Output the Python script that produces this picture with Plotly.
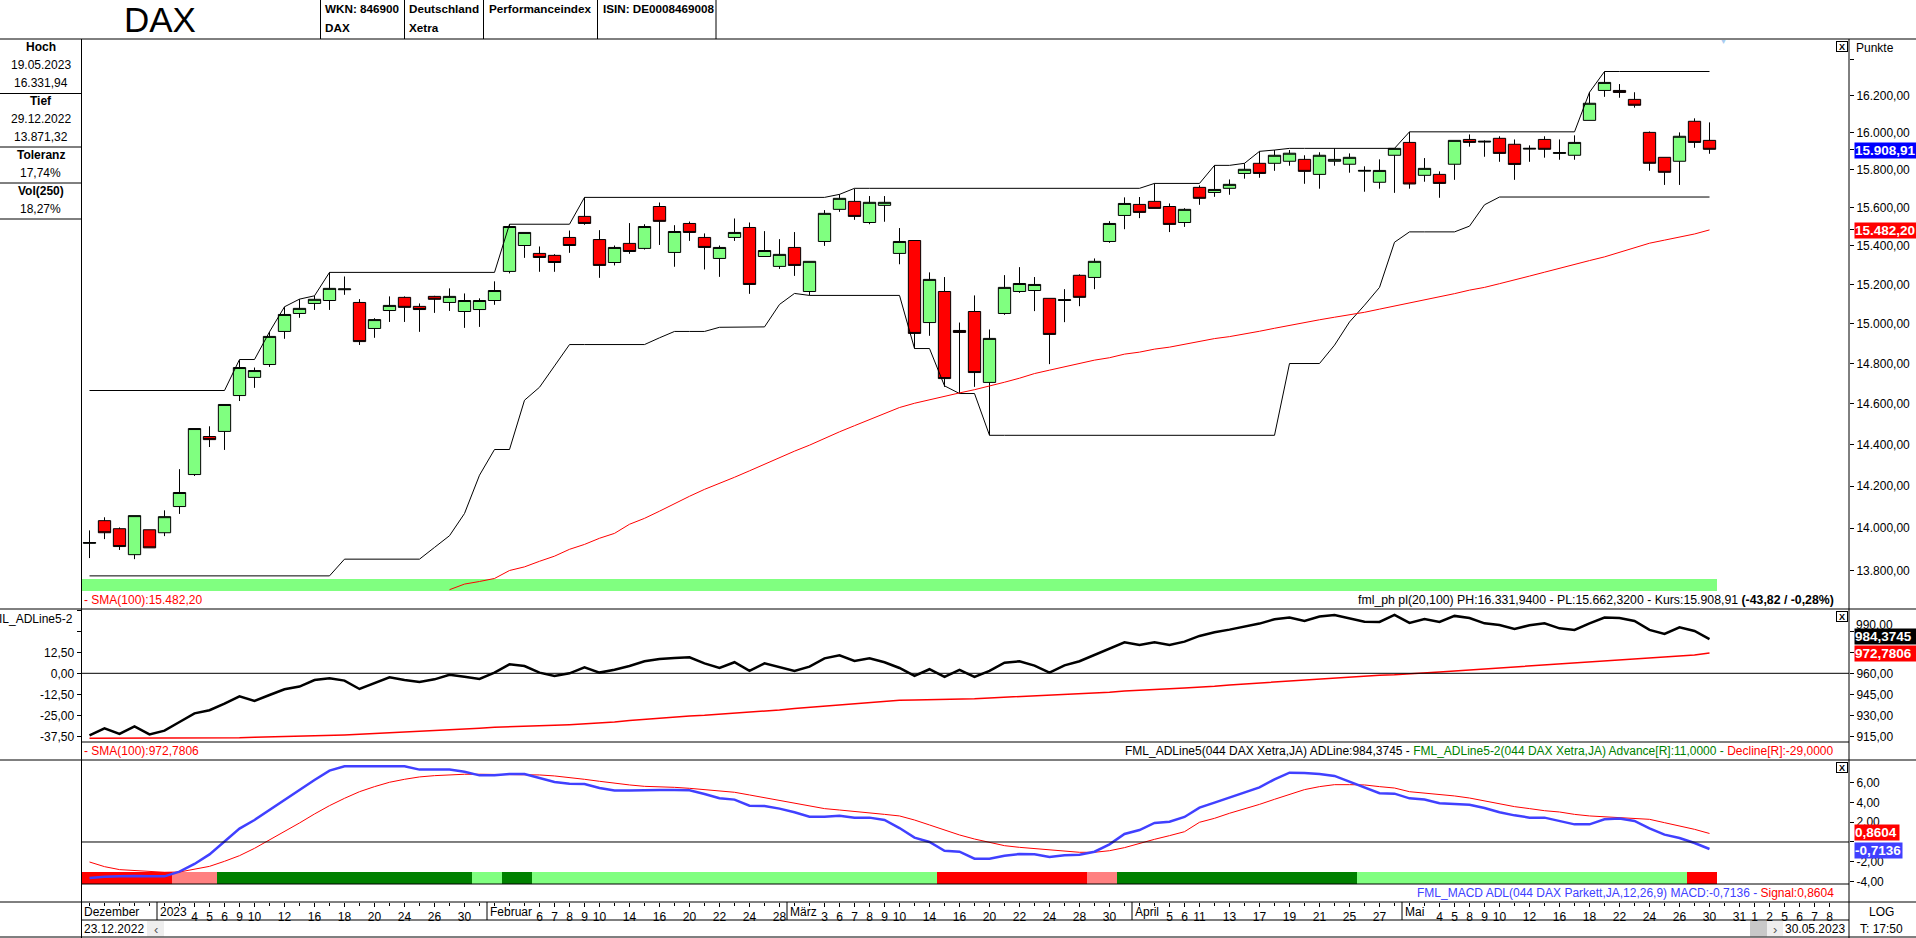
import math
import plotly.graph_objects as go

W, H = 1916, 938

# Tageskerzen DAX, 23.12.2022 - 30.05.2023
open_ = [13929, 14036, 13998, 13876, 13993, 13979, 14103, 14256, 14440, 14465, 14641, 14731, 14795, 14961, 15052, 15103, 15118, 15173, 15108, 14976, 15067, 15134, 15088, 15139, 15108, 15062, 15072, 15118, 15267, 15401, 15360, 15350, 15443, 15553, 15432, 15313, 15412, 15386, 15605, 15365, 15516, 15443, 15334, 15443, 15495, 15344, 15293, 15391, 15164, 15422, 15590, 15632, 15521, 15611, 15360, 15427, 15006, 15164, 14966, 15062, 14706, 15052, 15164, 15169, 15129, 15118, 15247, 15236, 15422, 15558, 15616, 15632, 15605, 15521, 15706, 15679, 15701, 15780, 15834, 15834, 15845, 15855, 15775, 15845, 15829, 15792, 15733, 15877, 15946, 15770, 15775, 15829, 15962, 15948, 15968, 15936, 15910, 15962, 15887, 15877, 16065, 16228, 16228, 16179, 16000, 15866, 15845, 16060, 15957]
high = [13990, 14052, 14004, 14060, 13993, 14085, 14282, 14479, 14490, 14597, 14817, 14780, 14959, 15086, 15125, 15142, 15262, 15241, 15125, 15028, 15139, 15139, 15103, 15142, 15180, 15154, 15129, 15216, 15512, 15469, 15396, 15356, 15479, 15653, 15481, 15401, 15518, 15512, 15626, 15507, 15526, 15464, 15401, 15542, 15521, 15476, 15434, 15471, 15319, 15586, 15669, 15699, 15660, 15660, 15492, 15427, 15262, 15238, 15006, 15144, 14971, 15248, 15289, 15238, 15129, 15176, 15252, 15334, 15528, 15653, 15655, 15727, 15621, 15596, 15717, 15823, 15748, 15834, 15898, 15905, 15905, 15877, 15893, 15914, 15887, 15818, 15855, 15914, 16003, 15862, 15791, 15957, 15989, 15957, 15979, 15962, 15930, 15979, 15962, 15984, 16218, 16332, 16263, 16218, 16005, 15866, 16000, 16076, 16054]
low = [13860, 13949, 13898, 13855, 13908, 13963, 14068, 14249, 14389, 14375, 14614, 14679, 14783, 14924, 15030, 15070, 15070, 15147, 14893, 14929, 15009, 15009, 14959, 15055, 15065, 14979, 14984, 15096, 15257, 15337, 15265, 15265, 15363, 15509, 15234, 15298, 15358, 15380, 15404, 15291, 15425, 15277, 15239, 15425, 15152, 15344, 15280, 15244, 15144, 15399, 15577, 15535, 15512, 15525, 15304, 14875, 14939, 14684, 14651, 14684, 14446, 15045, 15157, 15064, 14797, 15008, 15089, 15176, 15415, 15486, 15544, 15595, 15471, 15498, 15614, 15656, 15667, 15752, 15757, 15794, 15821, 15725, 15699, 15821, 15784, 15683, 15699, 15677, 15699, 15736, 15651, 15746, 15923, 15869, 15842, 15746, 15842, 15864, 15853, 15853, 16065, 16193, 16188, 16134, 15794, 15719, 15719, 15917, 15885]
close = [13933, 13979, 13914, 14060, 13908, 14055, 14170, 14479, 14425, 14597, 14780, 14765, 14936, 15047, 15078, 15124, 15180, 15177, 14910, 15021, 15093, 15083, 15072, 15124, 15139, 15118, 15118, 15169, 15500, 15469, 15339, 15313, 15401, 15516, 15298, 15391, 15370, 15500, 15527, 15474, 15469, 15391, 15391, 15469, 15200, 15375, 15355, 15298, 15319, 15569, 15648, 15553, 15627, 15627, 15422, 14951, 15226, 14725, 14956, 14755, 14926, 15185, 15205, 15200, 14946, 15122, 15134, 15319, 15516, 15621, 15574, 15595, 15511, 15590, 15648, 15695, 15722, 15802, 15780, 15877, 15888, 15791, 15877, 15855, 15866, 15796, 15796, 15914, 15724, 15807, 15727, 15957, 15946, 15952, 15887, 15828, 15914, 15909, 15891, 15946, 16158, 16272, 16217, 16147, 15834, 15786, 15979, 15946, 15909]

# fml_ph pl(20,100)
ph_line = [14666] * 10 + [14820, 14820, 14959, 15086, 15125, 15142] + [15262] * 12 + [15512] * 5 + [15653] * 17 + [15669] + [15701] * 20 + [15727] * 4 + [15823, 15823, 15834, 15898, 15905] + [15914] * 8 + [16003] * 12 + [16218] + [16332] * 8
pl_line = [13777] * 17 + [13855] * 6 + [13910, 13965, 14070, 14253, 14377, 14377, 14618, 14682, 14788] + [14895] * 6 + [14929, 14961, 14961, 14961, 14982, 14982, 14982, 14984, 15098, 15154] + [15144] * 7 + [14875, 14875, 14689, 14651, 14651] + [14446] * 20 + [14800, 14800, 14800, 14892, 15009, 15094, 15185, 15418] + [15472] * 4 + [15502, 15614] + [15655] * 15

# SMA(100) Kurs, beginnt erst bei Index 24
sma_start = 24
sma_main = [13713, 13739, 13751, 13765, 13802, 13819, 13845, 13869, 13901, 13924, 13953, 13976, 14019, 14047, 14081, 14117, 14152, 14185, 14213, 14243, 14274, 14306, 14337, 14369, 14398, 14432, 14463, 14493, 14523, 14554, 14582, 14603, 14621, 14638, 14654, 14670, 14687, 14707, 14727, 14750, 14767, 14783, 14802, 14817, 14829, 14847, 14857, 14872, 14882, 14897, 14912, 14925, 14935, 14947, 14962, 14977, 14992, 15005, 15020, 15033, 15045, 15058, 15074, 15089, 15107, 15122, 15137, 15153, 15171, 15185, 15204, 15222, 15243, 15263, 15284, 15305, 15323, 15342, 15367, 15390, 15413, 15429, 15445, 15461, 15482.2]

# AD-Linie und ihr SMA
ad_line = [915.7, 920.7, 916.7, 922.1, 916.4, 919.0, 925.2, 931.4, 933.6, 938.3, 943.6, 940.2, 944.5, 948.6, 950.5, 955.2, 956.4, 954.8, 948.8, 952.9, 957.1, 955.2, 953.8, 955.7, 959.0, 957.6, 956.0, 960.5, 966.4, 965.2, 960.5, 958.1, 960.0, 964.3, 960.5, 962.6, 965.2, 968.6, 970.2, 971.0, 971.4, 967.1, 963.8, 967.9, 961.7, 967.1, 964.3, 961.7, 964.8, 970.7, 972.9, 968.8, 970.7, 967.9, 963.8, 958.1, 962.9, 957.4, 962.4, 957.4, 961.7, 967.6, 968.6, 965.5, 960.5, 965.7, 968.6, 973.1, 977.6, 982.1, 980.2, 982.1, 980.2, 982.6, 986.7, 989.3, 991.2, 993.3, 995.5, 998.6, 999.8, 997.4, 1000.5, 1001.7, 999.5, 996.9, 996.7, 1001.7, 996.0, 998.8, 996.7, 1001.0, 999.5, 995.7, 994.5, 991.7, 994.3, 995.7, 992.1, 991.0, 995.7, 999.8, 999.5, 997.4, 991.0, 988.1, 992.9, 990.2, 984.37]
ad_sma = [913.6] * 9 + [913.8, 914.0, 914.3, 914.5, 914.8, 915.2, 915.5, 915.7, 916.0, 916.4, 916.9, 917.4, 917.9, 918.3, 918.8, 919.3, 920.0, 920.7, 921.4, 921.9, 922.1, 922.4, 922.9, 923.3, 923.8, 924.3, 925.2, 926.2, 927.1, 928.1, 928.8, 929.5, 930.0, 930.7, 931.4, 932.4, 933.3, 933.8, 934.8, 935.7, 936.4, 937.6, 938.3, 939.3, 940.0, 940.7, 941.0, 941.2, 941.4, 941.4, 941.9, 942.4, 942.9, 943.3, 943.8, 944.0, 944.5, 945.0, 945.5, 946.4, 947.4, 948.1, 948.6, 949.0, 949.5, 950.0, 950.7, 951.7, 952.4, 953.3, 954.0, 954.5, 955.2, 955.7, 956.4, 957.1, 957.9, 958.6, 959.0, 959.5, 960.0, 961.0, 961.7, 962.4, 963.1, 963.8, 964.5, 965.2, 966.0, 966.7, 967.4, 968.1, 968.8, 969.5, 970.2, 971.0, 971.7, 972.4, 973.1, 974.5]

# MACD(12,26,9) auf AD-Linie
macd = [-3.64, -3.50, -3.47, -3.43, -3.47, -3.47, -3.00, -2.22, -1.25, 0.10, 1.35, 2.22, 3.23, 4.28, 5.29, 6.26, 7.21, 7.64, 7.64, 7.64, 7.64, 7.64, 7.31, 7.31, 7.31, 7.10, 6.73, 6.73, 6.87, 6.87, 6.46, 6.06, 5.89, 5.86, 5.45, 5.19, 5.19, 5.25, 5.25, 5.25, 5.22, 4.85, 4.41, 4.28, 3.67, 3.64, 3.37, 3.00, 2.56, 2.56, 2.66, 2.46, 2.46, 2.22, 1.41, 0.44, 0.0, -0.88, -0.98, -1.68, -1.68, -1.38, -1.21, -1.25, -1.52, -1.35, -1.28, -0.98, -0.24, 0.81, 1.21, 1.92, 2.05, 2.53, 3.47, 3.97, 4.48, 5.02, 5.52, 6.33, 7.00, 6.97, 6.87, 6.67, 6.09, 5.45, 4.92, 4.88, 4.41, 4.28, 3.91, 3.84, 3.77, 3.43, 3.00, 2.69, 2.46, 2.46, 2.09, 1.78, 1.78, 2.29, 2.36, 2.12, 1.38, 0.74, 0.40, -0.10, -0.71]
signal = [-2.02, -2.49, -2.79, -2.90, -3.00, -3.06, -3.03, -2.76, -2.46, -1.95, -1.38, -0.64, 0.20, 1.01, 1.92, 2.83, 3.67, 4.41, 5.08, 5.59, 6.03, 6.33, 6.57, 6.70, 6.80, 6.84, 6.84, 6.84, 6.84, 6.84, 6.77, 6.67, 6.53, 6.33, 6.13, 5.93, 5.76, 5.62, 5.59, 5.52, 5.42, 5.29, 5.15, 5.02, 4.75, 4.48, 4.24, 3.94, 3.64, 3.37, 3.23, 3.10, 2.96, 2.79, 2.63, 2.22, 1.72, 1.21, 0.71, 0.30, -0.07, -0.37, -0.54, -0.67, -0.81, -0.94, -1.04, -1.04, -0.88, -0.57, -0.13, 0.27, 0.64, 1.04, 1.99, 2.39, 2.90, 3.33, 3.80, 4.31, 4.81, 5.29, 5.59, 5.79, 5.79, 5.76, 5.59, 5.45, 5.08, 4.95, 4.81, 4.65, 4.44, 4.14, 3.84, 3.57, 3.37, 3.16, 3.03, 2.79, 2.63, 2.56, 2.46, 2.39, 2.29, 1.95, 1.65, 1.28, 0.86]

# Farbband unter dem MACD, ein Zustand pro Handelstag
macd_state = ["red"] * 6 + ["lightred"] * 3 + ["dark"] * 17 + ["light"] * 2 + ["dark"] * 2 + ["light"] * 27 + ["red"] * 10 + ["lightred"] * 2 + ["dark"] * 16 + ["light"] * 22 + ["red"] * 2
state_colors = {"red": "#FF0000", "lightred": "#FF8080", "dark": "#008000", "light": "#80FF80"}

days = list(range(len(close)))

# Achsenbeschriftungen
main_ticks = [13800, 14000, 14200, 14400, 14600, 14800, 15000, 15200, 15400, 15600, 15800, 16000, 16200, 16400]
main_labels = ["13.800,00", "14.000,00", "14.200,00", "14.400,00", "14.600,00", "14.800,00", "15.000,00", "15.200,00", "15.400,00", "15.600,00", "15.800,00", "16.000,00", "16.200,00", ""]
ad_ticks = [915, 930, 945, 960, 975, 990]
ad_labels = ["915,00", "930,00", "945,00", "960,00", "", ""]
adv_ticks = [-37.5, -25, -12.5, 0, 12.5, 25, 37.5]
adv_labels = ["-37,50", "-25,00", "-12,50", "0,00", "12,50", "", ""]
macd_ticks = [-4, -2, 0, 2, 4, 6]
macd_labels = ["-4,00", "-2,00", "", "2,00", "4,00", "6,00"]

date_ticks = [7, 8, 9, 10, 11, 13, 15, 17, 19, 21, 23, 25, 30, 31, 32, 33, 34, 36, 38, 40, 42, 44, 46, 49, 50, 51, 52, 53, 54, 56, 58, 60, 62, 64, 66, 68, 72, 73, 74, 76, 78, 80, 82, 84, 86, 90, 91, 92, 93, 94, 96, 98, 100, 102, 104, 106, 108, 110, 111, 112, 113, 114, 115, 116]
date_labels = ["4", "5", "6", "9", "10", "12", "16", "18", "20", "24", "26", "30", "6", "7", "8", "9", "10", "14", "16", "20", "22", "24", "28", "3", "6", "7", "8", "9", "10", "14", "16", "20", "22", "24", "28", "30", "5", "6", "11", "13", "17", "19", "21", "25", "27", "4", "5", "8", "9", "10", "12", "16", "18", "22", "24", "26", "30", "31", "1", "2", "5", "6", "7", "8"]
month_names = ["Dezember", "2023", "Februar", "März", "April", "Mai"]
month_first_day = [0, 5, 27, 47, 70, 88]


def px(x):
    return x / W


def py(y):
    return 1 - y / H


def note(x, y, text, anchor="left", size=12, color="black"):
    return dict(x=px(x), y=py(y), xref="paper", yref="paper", text=text, showarrow=False,
                xanchor=anchor, yanchor="middle", font=dict(size=size, color=color), borderpad=0)


def tag(x, y, w, text, bg, size=13.5):
    return dict(x=px(x), y=py(y), xref="paper", yref="paper", text="<b>" + text + "</b>", showarrow=False,
                xanchor="left", yanchor="middle", align="left", width=w, height=15, bgcolor=bg, borderpad=0,
                font=dict(size=size, color="white"))


def line(x0, y0, x1, y1, color="black", width=1):
    return dict(type="line", xref="paper", yref="paper", x0=px(x0), y0=py(y0), x1=px(x1), y1=py(y1),
                line=dict(color=color, width=width))


def rect(x0, y0, x1, y1, color):
    return dict(type="rect", xref="paper", yref="paper", x0=px(x0), y0=py(y0), x1=px(x1), y1=py(y1),
                fillcolor=color, line=dict(width=0), layer="below")


fig = go.Figure()

# Kurschart
fig.add_trace(go.Candlestick(
    x=days, open=open_, high=high, low=low, close=close,
    increasing=dict(fillcolor="#80FF80", line=dict(color="black", width=1)),
    decreasing=dict(fillcolor="#FF0000", line=dict(color="black", width=1)),
    whiskerwidth=0, xaxis="x", yaxis="y", hoverinfo="skip"))
fig.add_trace(go.Scatter(x=days, y=ph_line, mode="lines", line=dict(color="black", width=1), xaxis="x", yaxis="y"))
fig.add_trace(go.Scatter(x=days, y=pl_line, mode="lines", line=dict(color="black", width=1), xaxis="x", yaxis="y"))
fig.add_trace(go.Scatter(x=days[sma_start:], y=sma_main, mode="lines", line=dict(color="#FF0000", width=1), xaxis="x", yaxis="y"))

# AD-Linie
fig.add_trace(go.Scatter(x=days, y=ad_sma, mode="lines", line=dict(color="#FF0000", width=1.5), xaxis="x2", yaxis="y2"))
fig.add_trace(go.Scatter(x=days, y=ad_line, mode="lines", line=dict(color="black", width=2.5), xaxis="x2", yaxis="y2"))
# linke Skala hat keine sichtbare Kurve
fig.add_trace(go.Scatter(x=[0] * len(adv_ticks), y=adv_ticks, mode="markers", marker=dict(opacity=0), xaxis="x2", yaxis="y4", hoverinfo="skip"))

# MACD
fig.add_trace(go.Bar(x=days, y=[1.21] * len(days), base=-4.24, width=1,
                     marker=dict(color=[state_colors[s] for s in macd_state], line=dict(width=0)),
                     xaxis="x3", yaxis="y3", hoverinfo="skip"))
fig.add_trace(go.Scatter(x=days, y=signal, mode="lines", line=dict(color="#FF0000", width=1), xaxis="x3", yaxis="y3"))
fig.add_trace(go.Scatter(x=days, y=macd, mode="lines", line=dict(color="#4040FF", width=2.5), xaxis="x3", yaxis="y3"))

x_range = [-0.533, 117.3]
x_domain = [px(81.5), px(1849)]
x_common = dict(range=x_range, domain=x_domain, showgrid=False, zeroline=False, showticklabels=False, ticks="", fixedrange=True)

shapes = [
    # Gitter des Programmfensters
    line(0, 39, W, 39), line(0, 609, W, 609), line(0, 760, W, 760), line(0, 902, W, 902), line(0, 937, W, 937),
    line(81.5, 39, 81.5, 938), line(1849, 39, 1849, 938),
    line(81.5, 742, 1849, 742), line(81.5, 884, 1849, 884), line(81.5, 920, 1849, 920),
    line(320.5, 0, 320.5, 39), line(404.5, 0, 404.5, 39), line(483.5, 0, 483.5, 39), line(597.5, 0, 597.5, 39), line(716, 0, 716, 39),
    line(0, 93.5, 81.5, 93.5), line(0, 147, 81.5, 147), line(0, 183, 81.5, 183), line(0, 219, 81.5, 219),
    # grünes Band im Kurschart
    dict(type="rect", xref="x", yref="paper", x0=-0.533, x1=108.5, y0=py(591), y1=py(579), fillcolor="#80FF80", line=dict(width=0), layer="below"),
    # Nulllinien
    dict(type="line", xref="x2 domain", yref="y2", x0=0, x1=1, y0=960, y1=960, line=dict(color="black", width=1)),
    dict(type="line", xref="x3 domain", yref="y3", x0=0, x1=1, y0=0, y1=0, line=dict(color="black", width=1)),
    # Schaltflächen der Datumsleiste
    rect(147, 921, 164, 936.5, "#EEEEEE"), rect(1750, 921, 1767, 936.5, "#C8C8C8"), rect(1767, 921, 1783, 936.5, "#EEEEEE"),
]
for d in month_first_day[1:]:
    month_x = 89.5 + 15 * (d - 0.5)
    shapes.append(line(month_x, 902, month_x, 920))

annotations = [
    note(160, 19, "DAX", "center", 35),
    note(324, 9, "<b>WKN: 846900</b>", size=11.7), note(324, 27, "<b>DAX</b>", size=11.7),
    note(408, 9, "<b>Deutschland</b>", size=11.7), note(408, 27, "<b>Xetra</b>", size=11.7),
    note(487.5, 9, "<b>Performanceindex</b>", size=11.7), note(602, 9, "<b>ISIN: DE0008469008</b>", size=11.7),
    note(40.5, 47, "<b>Hoch</b>", "center"), note(40.5, 65, "19.05.2023", "center"), note(40.5, 83, "16.331,94", "center"),
    note(40.5, 101, "<b>Tief</b>", "center"), note(40.5, 119, "29.12.2022", "center"), note(40.5, 137, "13.871,32", "center"),
    note(40.5, 155, "<b>Toleranz</b>", "center"), note(40.5, 173, "17,74%", "center"),
    note(40.5, 191, "<b>Vol(250)</b>", "center"), note(40.5, 209, "18,27%", "center"),
    note(1855, 48, "Punkte"),
    note(1723, 41, "▼", "center", 7, "#A8CCF0"),
    note(83, 600, "- SMA(100):15.482,20", color="#FF0000"),
    note(1835, 600, "fml_ph pl(20,100) PH:16.331,9400 - PL:15.662,3200 - Kurs:15.908,91 <b>(-43,82 / -0,28%)</b>", "right", 12.3),
    note(83, 751, "- SMA(100):972,7806", color="#FF0000"),
    note(1835, 751, "FML_ADLine5(044 DAX Xetra,JA) ADLine:984,3745 - <span style='color:#008000'>FML_ADLine5-2(044 DAX Xetra,JA) Advance[R]:11,0000 - </span><span style='color:#FF0000'>Decline[R]:-29,0000</span>", "right"),
    note(1835, 893, "<span style='color:#4040FF'>FML_MACD ADL(044 DAX Parkett,JA,12,26,9) MACD:-0,7136 - </span><span style='color:#FF0000'>Signal:0,8604</span>", "right"),
    note(74, 619, "IL_ADLine5-2", "right"),
    note(1855, 625, "990,00"),
    note(83, 929, "23.12.2022"), note(155.5, 929, "‹", "center", 13, "#555555"), note(1775, 929, "›", "center", 13, "#555555"),
    note(1846, 929, "30.05.2023", "right"),
    note(1881, 912, "LOG", "center"), note(1881, 929, "T: 17:50", "center"),
    tag(1854, 150, 62, "15.908,91", "#0000FF"),
    tag(1854, 231, 62, "15.482,20", "#FF0000"),
    tag(1854, 636.3, 61, "984,3745", "#000000"),
    tag(1854, 653.2, 61, "972,7806", "#FF0000"),
    tag(1854, 832, 44, "0,8604", "#FF0000"),
    tag(1854, 850, 47, "-0,7136", "#4040FF"),
]
for name, d in zip(month_names, month_first_day):
    left = 83 if d == 0 else 89.5 + 15 * (d - 0.5) + 2
    annotations.append(note(left, 912, name))
for y_close in (46.5, 616.5, 767.5):
    annotations.append(dict(x=px(1842), y=py(y_close), xref="paper", yref="paper", text="<b>X</b>", showarrow=False,
                            xanchor="center", yanchor="middle", width=10, height=9, bordercolor="black", borderwidth=1,
                            borderpad=0, font=dict(size=9)))

fig.update_layout(
    width=W, height=H, margin=dict(l=0, r=0, t=0, b=0), autosize=False,
    paper_bgcolor="white", plot_bgcolor="white", showlegend=False, barmode="overlay", boxgap=0.18, boxgroupgap=0,
    font=dict(family="Liberation Sans", size=12, color="black"),
    shapes=shapes, annotations=annotations,
    xaxis=dict(x_common, anchor="y", rangeslider=dict(visible=False)),
    xaxis2=dict(x_common, anchor="y2"),
    xaxis3=dict(x_common, anchor="y3", showticklabels=True, tickmode="array", tickvals=date_ticks, ticktext=date_labels,
                ticks="outside", ticklen=4, tickcolor="black", tickangle=0, tickfont=dict(size=12),
                minor=dict(tickvals=days + list(range(109, 117)), ticks="outside", ticklen=3, tickcolor="black")),
    yaxis=dict(type="log", domain=[py(609), py(39)], range=[math.log10(13624), math.log10(16512)], side="right", anchor="x",
               tickmode="array", tickvals=main_ticks + [15908.91, 15482.2], ticktext=main_labels + ["", ""],
               ticks="outside", ticklen=4, tickcolor="black", showgrid=False, zeroline=False, fixedrange=True),
    yaxis2=dict(domain=[py(760), py(609)], range=[898.07, 1005.93], side="right", anchor="x2",
                tickmode="array", tickvals=ad_ticks, ticktext=ad_labels,
                ticks="outside", ticklen=4, tickcolor="black", showgrid=False, zeroline=False, fixedrange=True),
    yaxis4=dict(domain=[py(760), py(609)], range=[-51.6, 38.27], side="left", overlaying="y2", anchor="x2",
                tickmode="array", tickvals=adv_ticks, ticktext=adv_labels,
                ticks="outside", ticklen=4, tickcolor="black", showgrid=False, zeroline=False, fixedrange=True),
    yaxis3=dict(domain=[py(902), py(760)], range=[-6.06, 8.28], side="right", anchor="x3",
                tickmode="array", tickvals=macd_ticks, ticktext=macd_labels,
                ticks="outside", ticklen=4, tickcolor="black", showgrid=False, zeroline=False, fixedrange=True),
)

fig.write_html("out.html", config={"displayModeBar": False},
               post_script="document.body.style.margin='0';document.body.style.overflow='hidden';")
